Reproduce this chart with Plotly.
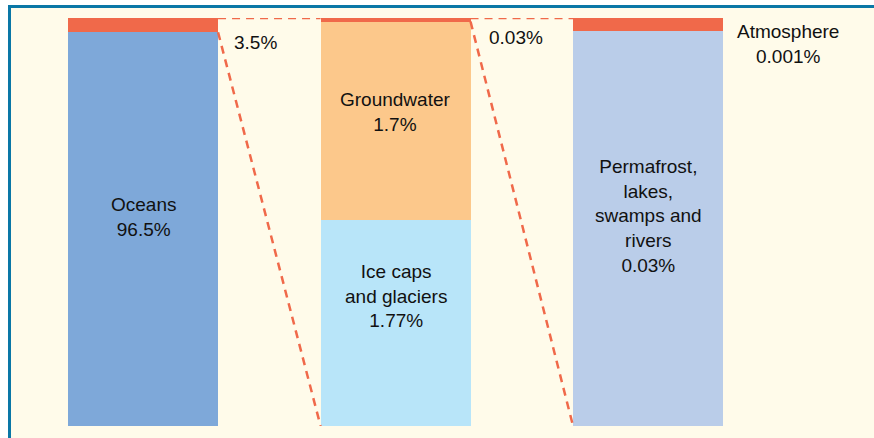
import plotly.graph_objects as go

# Distribution of the Earth's water, expanded step by step
bars = ["All water", "Fresh water", "Other fresh water"]

oceans = [96.5, 0, 0]
fresh_total = [3.5, 0, 0]
ice_caps = [0, 1.77, 0]
groundwater = [0, 1.7, 0]
other_fresh = [0, 0.03, 0]
surface = [0, 0, 0.03]
atmosphere = [0, 0, 0.001]

RED = "#f0694a"
BORDER = "#0a77a6"
CREAM = "#fffbea"
FONT = "Liberation Sans, Arial, sans-serif"

x = [0, 1, 2]
bar_w = 0.594

fig = go.Figure()

def add_stack(vals, color):
    fig.add_trace(go.Bar(
        x=x, y=vals, width=bar_w, marker_color=color,
        marker_line_width=0, hoverinfo="skip", showlegend=False,
    ))

add_stack(oceans, "#7ea8d9")
add_stack(ice_caps, "#b8e5f9")
add_stack(groundwater, "#fcc88b")
add_stack(surface, "#bacde9")
add_stack(fresh_total, RED)
add_stack(other_fresh, RED)
add_stack(atmosphere, RED)

# Connector lines: from the highlighted top segment of one bar to the full next bar
tot1 = oceans[0] + fresh_total[0]
cut1 = oceans[0] / tot1 * 100
tot2 = ice_caps[1] + groundwater[1] + other_fresh[1]
cut2 = (ice_caps[1] + groundwater[1]) / tot2 * 100

dash = dict(color=RED, width=2.5, dash="8px,6px")
h = bar_w / 2
for i, cut in [(0, cut1), (1, cut2)]:
    fig.add_trace(go.Scatter(x=[i + h, i + 1 - h], y=[100, 100], mode="lines",
                             line=dash, hoverinfo="skip", showlegend=False))
    fig.add_trace(go.Scatter(x=[i + h, i + 1 - h], y=[cut, 0], mode="lines",
                             line=dash, hoverinfo="skip", showlegend=False))

labels = [
    (0, 51.2, f"Oceans<br>{oceans[0]}%"),
    (0.444, 94.1, f"{fresh_total[0]}%"),
    (1, 77.0, f"Groundwater<br>{groundwater[1]}%"),
    (1, 31.9, f"Ice caps<br>and glaciers<br>{ice_caps[1]}%"),
    (1.477, 95.1, f"{other_fresh[1]}%"),
    (2, 51.4, f"Permafrost,<br>lakes,<br>swamps and<br>rivers<br>{surface[2]}%"),
    (2.554, 93.75, f"Atmosphere<br>{atmosphere[2]}%"),
]
for lx, ly, t in labels:
    fig.add_annotation(x=lx, y=ly, text=t, showarrow=False, xanchor="center",
                       yanchor="middle", align="center",
                       font=dict(family=FONT, size=19, color="#111111"))

# Frame: white strip above/left, blue rule along the top and left edges
W, H = 874, 438
ml, mr, mt, mb = 10, 0, 18, 12
pw, ph = W - ml - mr, H - mt - mb

def px(p):
    return (p - ml) / pw

def py(q):
    return (H - mb - q) / ph

fig.add_shape(type="rect", xref="paper", yref="paper", x0=px(0), x1=px(W),
              y0=py(0), y1=py(5), fillcolor="white", line_width=0, layer="below")
fig.add_shape(type="rect", xref="paper", yref="paper", x0=px(0), x1=px(8),
              y0=py(0), y1=py(H), fillcolor="white", line_width=0, layer="below")
fig.add_shape(type="rect", xref="paper", yref="paper", x0=px(8), x1=px(W),
              y0=py(5), y1=py(8), fillcolor=BORDER, line_width=0, layer="below")
fig.add_shape(type="rect", xref="paper", yref="paper", x0=px(8), x1=px(11),
              y0=py(5), y1=py(H), fillcolor=BORDER, line_width=0, layer="below")

fig.update_layout(
    barmode="stack", barnorm="percent",
    width=W, height=H,
    margin=dict(l=ml, r=mr, t=mt, b=mb, pad=0),
    paper_bgcolor=CREAM, plot_bgcolor=CREAM,
    xaxis=dict(range=[-0.527, 2.895], visible=False, fixedrange=True),
    yaxis=dict(range=[0, 100], visible=False, fixedrange=True),
    showlegend=False,
)

fig.write_html("out.html")
